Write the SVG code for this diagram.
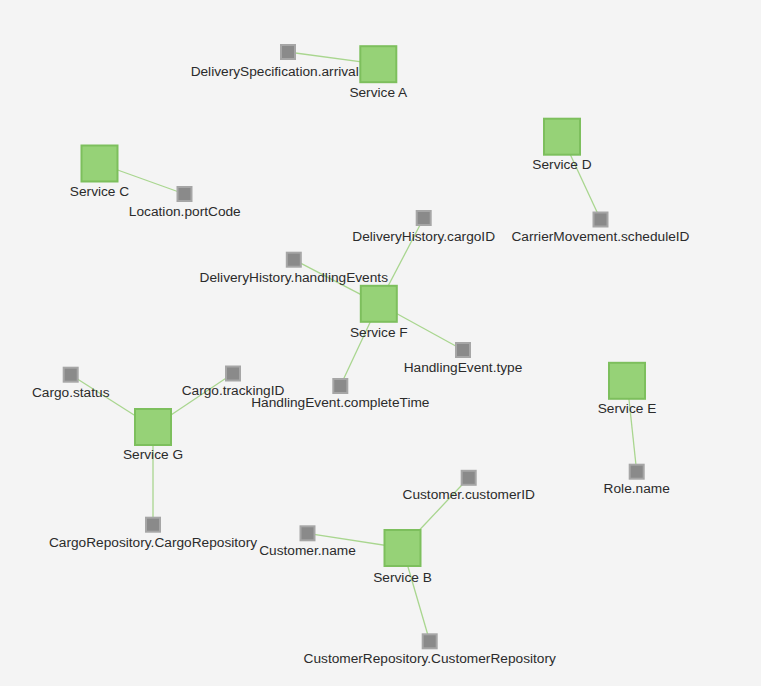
<svg xmlns="http://www.w3.org/2000/svg" width="761" height="686" viewBox="0 0 761 686">
<style>
.bg{fill:#f4f4f4}
.link{stroke:#a9d68f;stroke-width:1.3;fill:none}
.svc{fill:#96d277;stroke:#7dbf5d;stroke-width:2}
.attr{fill:#8a8a8a;stroke:#a6a6a6;stroke-width:2}
text{font-family:"Liberation Sans",Arial,sans-serif;font-size:13.7px;fill:#2b2b2b;text-anchor:middle}
</style>
<rect class="bg" x="0" y="0" width="761" height="686"/>
<g id="connectors">
<line class="link" x1="378.3" y1="64.2" x2="288" y2="52"/>
<line class="link" x1="99.5" y1="163.5" x2="184.5" y2="194"/>
<line class="link" x1="562" y1="136.7" x2="600.5" y2="219.5"/>
<line class="link" x1="378.8" y1="303.8" x2="423.7" y2="218"/>
<line class="link" x1="378.8" y1="303.8" x2="293.8" y2="259.7"/>
<line class="link" x1="378.8" y1="303.8" x2="463" y2="350"/>
<line class="link" x1="378.8" y1="303.8" x2="340.3" y2="386"/>
<line class="link" x1="153" y1="427" x2="70.7" y2="374.7"/>
<line class="link" x1="153" y1="427" x2="233" y2="373.5"/>
<line class="link" x1="153" y1="427" x2="153" y2="524.7"/>
<line class="link" x1="627" y1="380.8" x2="636.7" y2="471.7"/>
<line class="link" x1="402.5" y1="548" x2="468.7" y2="477.8"/>
<line class="link" x1="402.5" y1="548" x2="307.5" y2="533.3"/>
<line class="link" x1="402.5" y1="548" x2="429.7" y2="641.3"/>
</g>
<g id="serviceA"><rect class="svc" x="360.3" y="46.2" width="36" height="36"/><text x="378.3" y="96.7">Service A</text></g>
<g id="serviceB"><rect class="svc" x="384.5" y="530" width="36" height="36"/><text x="402.5" y="581.7">Service B</text></g>
<g id="serviceC"><rect class="svc" x="81.5" y="145.5" width="36" height="36"/><text x="99.5" y="196">Service C</text></g>
<g id="serviceD"><rect class="svc" x="544" y="118.7" width="36" height="36"/><text x="562" y="169.3">Service D</text></g>
<g id="serviceE"><rect class="svc" x="609" y="362.8" width="36" height="36"/><text x="627" y="413.3">Service E</text></g>
<g id="serviceF"><rect class="svc" x="360.8" y="285.8" width="36" height="36"/><text x="378.8" y="336.7">Service F</text></g>
<g id="serviceG"><rect class="svc" x="135" y="409" width="36" height="36"/><text x="153" y="459">Service G</text></g>
<g id="deliverySpecArrival"><rect class="attr" x="281" y="45" width="14" height="14"/><text x="274.7" y="76">DeliverySpecification.arrival</text></g>
<g id="locationPortCode"><rect class="attr" x="177.5" y="187" width="14" height="14"/><text x="184.8" y="216">Location.portCode</text></g>
<g id="carrierMovementScheduleID"><rect class="attr" x="593.5" y="212.5" width="14" height="14"/><text x="600.5" y="240.7">CarrierMovement.scheduleID</text></g>
<g id="deliveryHistoryCargoID"><rect class="attr" x="416.7" y="211" width="14" height="14"/><text x="423.7" y="240.7">DeliveryHistory.cargoID</text></g>
<g id="deliveryHistoryHandlingEvents"><rect class="attr" x="286.8" y="252.7" width="14" height="14"/><text x="293.8" y="281.7">DeliveryHistory.handlingEvents</text></g>
<g id="handlingEventType"><rect class="attr" x="456" y="343" width="14" height="14"/><text x="463" y="371.7">HandlingEvent.type</text></g>
<g id="handlingEventCompleteTime"><rect class="attr" x="333.3" y="379" width="14" height="14"/><text x="340.3" y="407.3">HandlingEvent.completeTime</text></g>
<g id="cargoStatus"><rect class="attr" x="63.7" y="367.7" width="14" height="14"/><text x="70.7" y="397">Cargo.status</text></g>
<g id="cargoTrackingID"><rect class="attr" x="226" y="366.5" width="14" height="14"/><text x="233" y="395">Cargo.trackingID</text></g>
<g id="cargoRepository"><rect class="attr" x="146" y="517.7" width="14" height="14"/><text x="153" y="546.7">CargoRepository.CargoRepository</text></g>
<g id="roleName"><rect class="attr" x="629.7" y="464.7" width="14" height="14"/><text x="636.7" y="493.3">Role.name</text></g>
<g id="customerCustomerID"><rect class="attr" x="461.7" y="470.8" width="14" height="14"/><text x="468.7" y="499.3">Customer.customerID</text></g>
<g id="customerName"><rect class="attr" x="300.5" y="526.3" width="14" height="14"/><text x="307.5" y="555">Customer.name</text></g>
<g id="customerRepository"><rect class="attr" x="422.7" y="634.3" width="14" height="14"/><text x="429.7" y="663.3">CustomerRepository.CustomerRepository</text></g>
</svg>
